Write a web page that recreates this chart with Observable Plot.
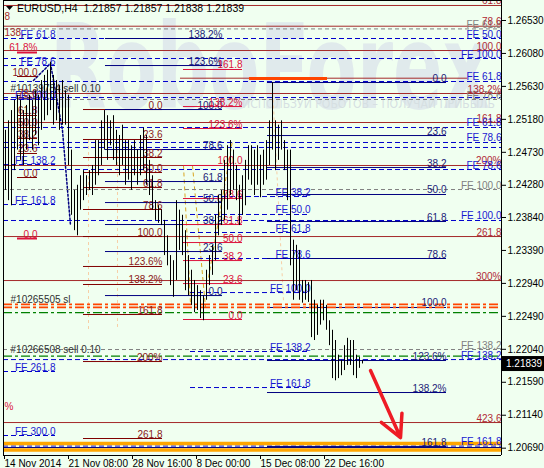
<!DOCTYPE html>
<html><head><meta charset="utf-8">
<script src="https://cdn.jsdelivr.net/npm/d3@7"></script>
<script src="https://cdn.jsdelivr.net/npm/@observablehq/plot@0.6"></script>
<style>
html,body{margin:0;padding:0;background:#f0fff0;}
#chart{width:544px;height:468px;overflow:hidden;}
</style></head><body><div id="chart"></div>
<script>
// ---------- DATA ----------
const symbol = "EURUSD,H4";
const headerQuote = [1.21857, 1.21857, 1.21838, 1.21839];
const lastClose = 1.21839;

// H4 bars (index order), high / low
const highs = [1.2503,1.2516,1.2530,1.2544,1.2551,1.2544,1.2530,1.2537,1.2551,1.2544,
1.2557,1.2551,1.2571,1.2578,1.2585,1.2596,1.2578,1.2571,1.2564,1.2571,
1.2557,1.2551,1.2476,1.2421,1.2428,1.2441,1.2448,1.2441,1.2448,1.2455,
1.2489,1.2489,1.2516,1.2530,1.2523,1.2516,1.2523,1.2503,1.2496,1.2510,
1.2489,1.2489,1.2482,1.2489,1.2476,1.2496,1.2506,1.2496,1.2462,1.2441,
1.2407,1.2400,1.2394,1.2380,1.2359,1.2332,1.2325,1.2407,1.2394,1.2387,
1.2366,1.2332,1.2312,1.2298,1.2291,1.2284,1.2277,1.2312,1.2332,1.2346,
1.2387,1.2414,1.2421,1.2462,1.2482,1.2489,1.2476,1.2455,1.2428,1.2441,
1.2462,1.2482,1.2482,1.2476,1.2482,1.2469,1.2476,1.2489,1.2516,1.2568,
1.2516,1.2510,1.2516,1.2489,1.2476,1.2476,1.2353,1.2346,1.2339,1.2298,
1.2298,1.2295,1.2298,1.2271,1.2264,1.2271,1.2271,1.2264,1.2243,1.2230,
1.2216,1.2196,1.2189,1.2209,1.2219,1.2216,1.2216,1.2196,1.2193,1.2189];
const lows = [1.2421,1.2407,1.2400,1.2448,1.2476,1.2462,1.2455,1.2476,1.2489,1.2476,
1.2496,1.2482,1.2503,1.2516,1.2523,1.2530,1.2510,1.2516,1.2503,1.2510,
1.2510,1.2455,1.2387,1.2366,1.2359,1.2394,1.2407,1.2414,1.2421,1.2414,
1.2428,1.2441,1.2455,1.2476,1.2462,1.2482,1.2462,1.2455,1.2441,1.2455,
1.2428,1.2435,1.2421,1.2441,1.2428,1.2441,1.2448,1.2428,1.2414,1.2394,
1.2380,1.2376,1.2373,1.2332,1.2318,1.2291,1.2275,1.2298,1.2339,1.2332,
1.2284,1.2277,1.2264,1.2254,1.2257,1.2246,1.2243,1.2271,1.2291,1.2305,
1.2325,1.2359,1.2373,1.2380,1.2394,1.2414,1.2421,1.2407,1.2373,1.2387,
1.2400,1.2435,1.2428,1.2414,1.2428,1.2411,1.2428,1.2435,1.2455,1.2476,
1.2448,1.2462,1.2476,1.2448,1.2407,1.2318,1.2271,1.2284,1.2271,1.2267,
1.2271,1.2268,1.2220,1.2216,1.2223,1.2237,1.2243,1.2230,1.2209,1.2164,
1.2161,1.2164,1.2168,1.2175,1.2182,1.2182,1.2168,1.2164,1.2178,1.2184];

// axis ticks
const yTicks = [1.26530,1.26080,1.25630,1.25180,1.24730,1.24280,1.23840,1.23390,1.22940,1.22490,1.22040,1.21590,1.21140,1.20690];
const xLabels = ["14 Nov 2014","21 Nov 08:00","28 Nov 16:00","8 Dec 00:00","15 Dec 08:00","22 Dec 16:00"];
const xLabelBars = [-0.667, 20.667, 42, 63.333, 84.667, 106];

// Fibonacci objects (price levels, labels, start/end bar)
const redFullPrices = [1.26735,1.26452,1.26120,1.25533,1.25137,1.24550,1.23580,1.22979,1.21040];
const redFullLabels = ["61.8","78.6","100.0","138.2%","161.8","200%","261.8","300%","423.6"];

const maroonPrices = [1.25314,1.24905,1.24659,1.24454,1.24249,1.23949,1.23580,1.23171,1.22925,1.22515,1.21873,1.20822];
const maroonLabels = ["0.0","23.6","38.2","50.0","61.8","78.6","100.0","123.6%","138.2%","161.8","200%","261.8"];
const maroonSpan = [26, 52.33];

const leftRedPrices = [1.25765,1.25470,1.25233,1.25069,1.24918,1.24714,1.24386];
const leftRedLabels = ["100.0","78.6","61.8","50.0","38.2","23.6","0.0"];
const leftRedSpan = [4, 10.67];

const navyLeftPrices = [1.22774,1.23375,1.23744,1.24044,1.24331,1.24768,1.25314,1.25915,1.26284];
const navyLeftLabels = ["0.0","23.6","38.2","50.0","61.8","78.6","100.0","123.6%","138.2%"];
const navyLeftSpan = [33.33, 72.33];

const crimsonPrices = [1.22447,1.22938,1.23252,1.23498,1.23744,1.24099,1.24550,1.25055,1.25355,1.25861];
const crimsonLabels = ["0.0","23.6","38.2","50.0","61.8","78.6","100.0","123.6%","138.2%","161.8"];
const crimsonSpan = [59.33, 79];

const navyRightPrices = [1.25683,1.24959,1.24522,1.24154,1.23785,1.23280,1.22611,1.21887,1.21450,1.20712];
const navyRightLabels = ["0.0","23.6","38.2","50.0","61.8","78.6","100.0","123.6%","138.2%","161.8"];
const navyRightSpan = [87.33, 147];

const feMidPrices = [1.24126,1.23881,1.23635,1.23280,1.22815,1.22010,1.21518];
const feMidLabels = ["FE 38.2","FE 50.0","FE 61.8","FE 78.6","FE 100.0","FE 138.2","FE 161.8"];
const feMidSpan = [61.67, 101.67];

const feRightPrices = [1.26284,1.26011,1.25697,1.25478,1.25069,1.24864,1.24796,1.24495,1.23799,1.21900,1.20719];
const feRightLabels = ["FE 50.0","FE 100.0","FE 61.8","","FE 61.8","FE 78.6","","FE 78.6","FE 100.0","FE 138.2","FE 161.8"];

const feLeftPrices = [1.26284,1.25915,1.25451,1.24563,1.24017,1.21737,1.20863];
const feLeftLabels = ["FE 61.8","FE 78.6","FE 100.0","FE 138.2","FE 161.8","FE 261.8","FE 300.0"];
const feLeftSpan = [-0.667, 16.67];

const grayPrices = [1.26415,1.25451,1.24222,1.22037];
const grayLabels = ["FE 61.8","FE 78.6","FE 100.0","FE 138.2"];

const leftCrimsonPrices = [1.26093, 1.23553];
const leftCrimsonLabels = ["61.8%", "0.0"];

const highLinePrice = 1.25742;      // thin dark red level
const highLineSpan = [58.33, 154];
const highMarkPrice = 1.25738;      // thick orange-red marker
const highMarkSpan = [81.33, 107.33];

const stopPrices = [1.22654, 1.22613];   // orange-red dash-dot
const greenPrices = [1.22542, 1.21948];  // green dash-dot
const orangePrices = [1.20753, 1.20665]; // orange band
const bandNavyPrice = 1.20699;

const orders = [
  {text: "#10139784 sell 0.10", price: 1.25601},
  {text: "#10265505 sl", price: 1.22720},
  {text: "#10266508 sell 0.10", price: 1.22037}
];
const leftFrags = [
  {text: "8", price: 1.26585, color: "#a52a2a"},
  {text: "138,", price: 1.26366, color: "#a52a2a"},
  {text: "%", price: 1.21259, color: "#dc143c"}
];

const peachV = [{x: 27.67, p1: 1.24891, p2: 1.22297}, {x: 37.33, p1: 1.24755, p2: 1.22297}];
const goldLinks = [
  {x1: 59.33, p1: 1.24550, x2: 61.67, p2: 1.22665},
  {x1: 62.33, p1: 1.24550, x2: 66.67, p2: 1.22611},
  {x1: 67.67, p1: 1.23020, x2: 75.67, p2: 1.24891}
];
const peachLinks = [{x1: 89, p1: 1.25615, x2: 92.67, p2: 1.22706}];
const navyDotBars = [9.33, 15, 19, 21.67];
const navyDotPrices = [1.25711, 1.25943, 1.25028, 1.23730];

const arrow = [{x1: 121.67, p1: 1.21750, x2: 131.67, p2: 1.20835}];

// ---------- CHART ----------
const X0 = -0.667, X1 = 165.333, Y0 = 1.20590, Y1 = 1.26803;
const bars = highs.map((h, i) => ({i, high: h, low: lows[i]}));
const FS = 10;

function levels(prices, labels, from, to, color, o = {}) {
  const rows = prices.map((p, k) => ({p, label: labels[k], from, to}));
  return {
    line: Plot.ruleY(rows, {y: "p", x1: "from", x2: "to", stroke: color, strokeWidth: o.w ?? 1, strokeDasharray: o.dash}),
    text: Plot.text(rows.filter(r => r.label), {x: "to", y: "p", text: "label", textAnchor: "end", lineAnchor: "bottom", dy: -1, fill: o.tc ?? color, fontSize: FS})
  };
}

const gRedFull = levels(redFullPrices, redFullLabels, X0, X1, "#a52a2a", {tc: "#b02a36"});
const gMaroon = levels(maroonPrices, maroonLabels, maroonSpan[0], maroonSpan[1], "#800000", {tc: "#8b1a1a"});
const gLeftRed = levels(leftRedPrices, leftRedLabels, leftRedSpan[0], leftRedSpan[1], "#800000", {tc: "#8b1a1a"});
const gNavyL = levels(navyLeftPrices, navyLeftLabels, navyLeftSpan[0], navyLeftSpan[1], "#000080", {tc: "#1c1c78"});
const gCrimson = levels(crimsonPrices, crimsonLabels, crimsonSpan[0], crimsonSpan[1], "#dc143c");
const gNavyR = levels(navyRightPrices, navyRightLabels, navyRightSpan[0], navyRightSpan[1], "#000080", {tc: "#1c1c78"});
const gFeMid = levels(feMidPrices, feMidLabels, feMidSpan[0], feMidSpan[1], "#0000cd", {dash: "5,3", tc: "#1818d0"});
const gFeRight = levels(feRightPrices, feRightLabels, X0, X1, "#0000cd", {dash: "5,3", tc: "#1818d0"});
const gFeLeft = levels(feLeftPrices, feLeftLabels, feLeftSpan[0], feLeftSpan[1], "#0000cd", {dash: "5,3", tc: "#1818d0"});
const gGray = levels(grayPrices, grayLabels, X0, X1, "#808080", {dash: "4,3"});
const gLeftCrim = levels(leftCrimsonPrices, leftCrimsonLabels, X0 + 4.67, 10.67, "#dc143c", {w: 2});

const chart = Plot.plot({
  width: 544, height: 468,
  marginLeft: 3, marginRight: 43, marginTop: 0, marginBottom: 13,
  x: {domain: [X0, X1], axis: null},
  y: {domain: [Y0, Y1], axis: null},
  style: {background: "#f0fff0", fontFamily: "'Liberation Sans', Arial, sans-serif", fontSize: "10px", color: "black"},
  marks: [
    Plot.ruleX(peachV, {x: "x", y1: "p1", y2: "p2", stroke: "#f7cfa6", strokeDasharray: "3,3"}),
    Plot.link(peachLinks, {x1: "x1", y1: "p1", x2: "x2", y2: "p2", stroke: "#f7cfa6", strokeDasharray: "3,3"}),
    Plot.link(goldLinks, {x1: "x1", y1: "p1", x2: "x2", y2: "p2", stroke: "#daa520", strokeDasharray: "4,3"}),
    Plot.line(navyDotBars.map((b, k) => ({b, p: navyDotPrices[k]})), {x: "b", y: "p", stroke: "#000080", strokeDasharray: "2,2"}),
    gGray.line, gRedFull.line, gFeRight.line, gFeLeft.line,
    gMaroon.line, gLeftRed.line, gNavyL.line, gCrimson.line, gNavyR.line, gFeMid.line, gLeftCrim.line,
    Plot.ruleY([highLinePrice], {x1: highLineSpan[0], x2: highLineSpan[1], stroke: "#a52a2a"}),
    Plot.ruleY([highMarkPrice], {x1: highMarkSpan[0], x2: highMarkSpan[1], stroke: "#ff4500", strokeWidth: 3}),
    Plot.ruleY(stopPrices, {x1: X0, x2: X1, stroke: "#ff4500", strokeWidth: 1.8, strokeDasharray: "9,3,3,3"}),
    Plot.ruleY(greenPrices, {x1: X0, x2: X1, stroke: "#008000", strokeWidth: 1.2, strokeDasharray: "9,3,3,3"}),
    Plot.ruleY(orangePrices, {x1: X0, x2: X1, stroke: "#ffa500", strokeWidth: 3.5}),
    Plot.ruleY([bandNavyPrice], {x1: X0, x2: X1, stroke: "#000080"}),
    Plot.text(orders, {x: 1.67, y: "price", text: "text", textAnchor: "start", fill: "#303030", fontSize: FS}),
    Plot.text(leftFrags, {x: X0, y: "price", text: "text", textAnchor: "start", dx: 1, fill: d => d.color, fontSize: FS}),
    gGray.text, gRedFull.text, gFeRight.text, gFeLeft.text,
    gMaroon.text, gLeftRed.text, gNavyL.text, gCrimson.text, gNavyR.text, gFeMid.text, gLeftCrim.text,
    Plot.ruleX(bars, {x: "i", y1: "low", y2: "high", stroke: "black", strokeWidth: 1}),
    Plot.arrow(arrow, {x1: "x1", y1: "p1", x2: "x2", y2: "p2", stroke: "#ee1c25", strokeWidth: 3.5, headLength: 22, headAngle: 55}),
    Plot.ruleX([X0, X1], {stroke: "black"}),
    Plot.ruleY([Y0, Y1], {stroke: "black"}),
    Plot.axisY(yTicks, {anchor: "right", tickSize: 4, tickPadding: 2, tickFormat: d3.format(".5f"), fontSize: 10}),
    Plot.axisX(xLabelBars, {anchor: "bottom", tickSize: 4, tickPadding: 0, textAnchor: "start", dx: 1, tickFormat: d => xLabels[xLabelBars.indexOf(d)], fontSize: 10})
  ]
});

document.getElementById("chart").appendChild(chart);

// watermark behind marks
const svg = d3.select(chart);
const wm = svg.insert("g", "g").attr("pointer-events", "none").attr("text-anchor", "start");
wm.append("text").attr("x", 50).attr("y", 108).attr("font-size", 118).attr("font-weight", "bold")
  .attr("font-family", "'DejaVu Sans', sans-serif").attr("fill", "#e0eaec")
  .attr("textLength", 440).attr("lengthAdjust", "spacingAndGlyphs").text("RoboForex");
wm.append("text").attr("x", 242).attr("y", 108).attr("font-size", 13)
  .attr("font-family", "'DejaVu Sans', sans-serif").attr("fill", "#d6dfe2")
  .attr("textLength", 253).attr("lengthAdjust", "spacingAndGlyphs").text("ИСПОЛЬЗУЙ РОБОТОВ – ПОЛУЧАЙ ПРИБЫЛЬ");

// header
const hdr = svg.append("g").attr("text-anchor", "start");
hdr.append("path").attr("d", "M6,6 L13,6 L9.5,10 Z").attr("fill", "black");
hdr.append("text").attr("x", 17).attr("y", 12).attr("font-size", 10.5)
  .attr("font-family", "'Liberation Sans', Arial, sans-serif").attr("fill", "black")
  .text(symbol + "  " + headerQuote.map(v => v.toFixed(5)).join(" "));

// current price box
const yS = chart.scale("y");
const py = yS.apply(lastClose);
const pb = svg.append("g").attr("text-anchor", "start");
pb.append("rect").attr("x", 502).attr("y", py - 7.5).attr("width", 42).attr("height", 15).attr("fill", "black");
pb.append("text").attr("x", 506).attr("y", py).attr("dy", "0.35em").attr("font-size", 10)
  .attr("font-family", "'Liberation Sans', Arial, sans-serif").attr("fill", "white").text(lastClose.toFixed(5));
</script></body></html>
